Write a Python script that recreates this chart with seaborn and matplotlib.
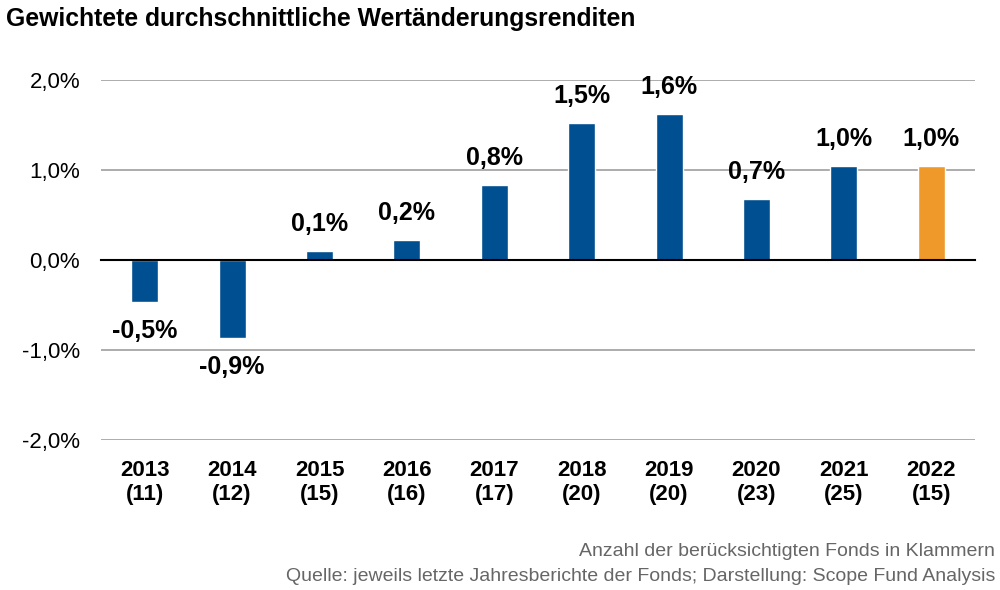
import numpy as np
import pandas as pd
import matplotlib
matplotlib.use("Agg")
import matplotlib.pyplot as plt
import matplotlib.transforms as mtransforms
import seaborn as sns

# ==========================================
# DATA
# ==========================================
YEARS = ["2013", "2014", "2015", "2016", "2017", "2018", "2019", "2020", "2021", "2022"]
FUND_COUNTS = [11, 12, 15, 16, 17, 20, 20, 23, 25, 15]
RETURNS = [-0.47, -0.87, 0.10, 0.22, 0.84, 1.52, 1.62, 0.68, 1.05, 1.05]
VALUE_LABELS = ["-0,5%", "-0,9%", "0,1%", "0,2%", "0,8%", "1,5%", "1,6%", "0,7%", "1,0%", "1,0%"]
Y_TICKS = [-2.0, -1.0, 0.0, 1.0, 2.0]

TITLE = "Gewichtete durchschnittliche Wertänderungsrenditen"
NOTE_1 = "Anzahl der berücksichtigten Fonds in Klammern"
NOTE_2 = "Quelle: jeweils letzte Jahresberichte der Fonds; Darstellung: Scope Fund Analysis"

BLUE = "#004f91"
ORANGE = "#f0992b"

sns.set_style("white")
plt.rcParams['font.family'] = ['Liberation Sans', 'DejaVu Sans']
plt.rcParams['text.color'] = 'black'
plt.rcParams['ytick.color'] = 'black'

df = pd.DataFrame({'year': YEARS, 'ret': RETURNS, 'n': FUND_COUNTS})
palette = [BLUE] * (len(YEARS) - 1) + [ORANGE]

fig = plt.figure(figsize=(10, 5.9), dpi=100)
ax = fig.add_axes([0.101, 0.254, 0.874, 0.61])

sns.barplot(data=df, x='year', y='ret', hue='year', palette=palette,
            width=0.31, legend=False, saturation=1, ax=ax, zorder=3)

ax.set_ylim(-2, 2)
ax.set_xlim(-0.5, len(YEARS) - 0.5)
ax.set_yticks(Y_TICKS)
ax.set_yticklabels([f"{t:.1f}%".replace(".", ",") for t in Y_TICKS], fontsize=16)
ax.tick_params(axis='y', length=0, pad=15, labelcolor='black')
ax.grid(axis='y', color='#a6a6a6', linewidth=1.3, zorder=0)
ax.set_xlabel("")
ax.set_ylabel("")

for s in ['top', 'right', 'left']:
    ax.spines[s].set_visible(False)
ax.spines['bottom'].set_position(('data', 0))
ax.spines['bottom'].set_color('black')
ax.spines['bottom'].set_linewidth(1.5)
ax.spines['bottom'].set_zorder(4)

# tick marks between categories on the zero line
ax.set_xticks(np.arange(len(YEARS)))
ax.set_xticklabels([])
ax.tick_params(axis='x', which='major', length=0)
ax.set_xticks(np.arange(-0.5, len(YEARS)), minor=True)
ax.tick_params(axis='x', which='minor', length=6, width=1.5, direction='out', color='black')

# value labels
for i, (v, lab) in enumerate(zip(RETURNS, VALUE_LABELS)):
    off = 0.30 if v >= 0 else -0.32
    ax.text(i, v + off, lab, ha='center', va='center', fontsize=18, fontweight='bold')

# category labels below the plot
trans = mtransforms.blended_transform_factory(ax.transData, ax.transAxes)
for i, (y, n) in enumerate(zip(YEARS, FUND_COUNTS)):
    ax.text(i, -0.056, f"{y}\n({n})", transform=trans, ha='center', va='top',
            fontsize=16, fontweight='bold', linespacing=1.15)

fig.text(0.006, 0.968, TITLE, ha='left', va='center', fontsize=17.8, fontweight='bold')
fig.text(0.995, 0.066, NOTE_1, ha='right', va='center', fontsize=14, color='#666666')
fig.text(0.995, 0.023, NOTE_2, ha='right', va='center', fontsize=14, color='#666666')

fig.savefig("out.png", dpi=100)
